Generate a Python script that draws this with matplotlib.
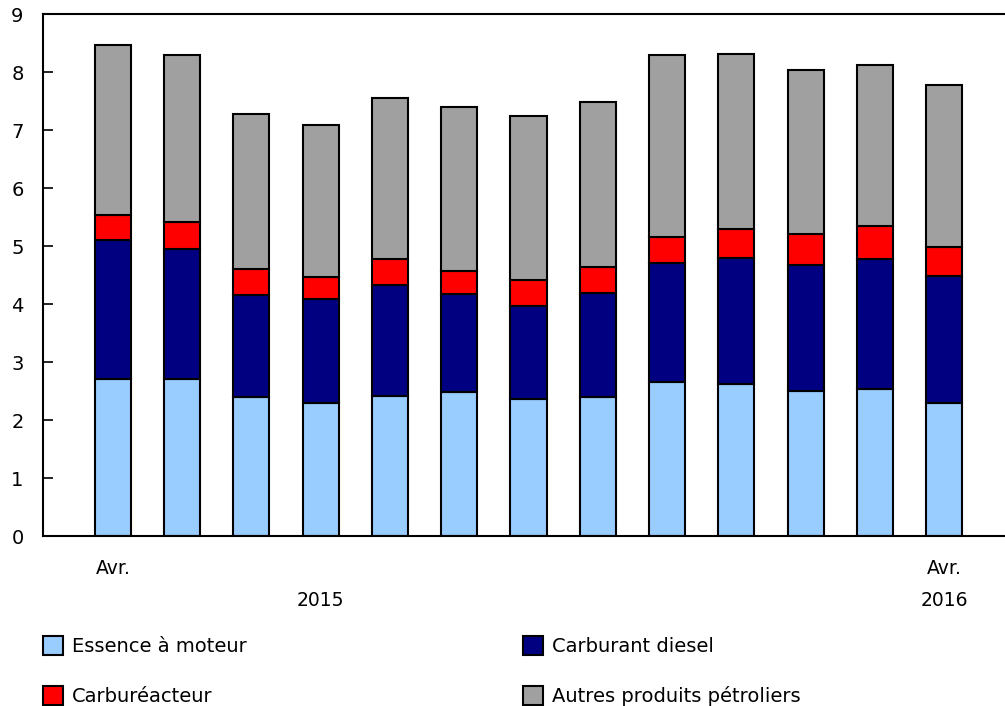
import numpy as np
import matplotlib
matplotlib.use("Agg")
import matplotlib.pyplot as plt
from matplotlib.patches import Patch
import matplotlib.transforms as mtransforms

# stacked totals (top of each segment)
top_essence = [2.70, 2.71, 2.40, 2.30, 2.41, 2.49, 2.37, 2.39, 2.65, 2.62, 2.50, 2.53, 2.30]
top_diesel = [5.11, 4.95, 4.16, 4.09, 4.33, 4.17, 3.96, 4.19, 4.70, 4.79, 4.68, 4.77, 4.48]
top_jet = [5.53, 5.42, 4.60, 4.47, 4.78, 4.57, 4.42, 4.64, 5.15, 5.30, 5.20, 5.35, 4.98]
top_total = [8.47, 8.30, 7.27, 7.09, 7.56, 7.40, 7.25, 7.49, 8.29, 8.31, 8.03, 8.12, 7.78]

essence = np.array(top_essence)
diesel = np.array(top_diesel) - np.array(top_essence)
jet = np.array(top_jet) - np.array(top_diesel)
autres = np.array(top_total) - np.array(top_jet)

labels = ["Essence à moteur", "Carburant diesel", "Carburéacteur", "Autres produits pétroliers"]
colors = ["#99CCFF", "#000080", "#FF0000", "#A0A0A0"]

plt.rcParams['font.family'] = ['DejaVu Sans']
plt.rcParams['font.size'] = 14

fig = plt.figure(figsize=(10.05, 7.06), dpi=100)
ax = fig.add_axes([43/1005, 170/706, 962/1005, 522/706])

x = np.arange(len(essence))
w = 0.52
bottom = np.zeros(len(x))
for vals, c in zip([essence, diesel, jet, autres], colors):
    ax.bar(x, vals, w, bottom=bottom, color=c, edgecolor="black", linewidth=1.5)
    bottom += vals

ax.set_xlim(-1.01, 12.88)
ax.set_ylim(0, 9)
ax.set_yticks(range(10))
ax.tick_params(axis='y', direction='in', length=7, width=1.2, pad=14)
ax.set_xticks([])
for s in ['left', 'top', 'bottom']:
    ax.spines[s].set_linewidth(1.5)
ax.spines['right'].set_visible(False)

trans = mtransforms.blended_transform_factory(ax.transData, fig.transFigure)
ax.text(0, 1 - 568/706, "Avr.", transform=trans, ha='center', va='center', fontsize=13.5)
ax.text(12, 1 - 568/706, "Avr.", transform=trans, ha='center', va='center', fontsize=13.5)
ax.text(3, 1 - 600/706, "2015", transform=trans, ha='center', va='center', fontsize=13.5)
ax.text(12, 1 - 600/706, "2016", transform=trans, ha='center', va='center', fontsize=13.5)

handles = [Patch(facecolor=c, edgecolor='black', linewidth=1.5) for c in colors]
order = [0, 2, 1, 3]
fig.legend([handles[i] for i in order], [labels[i] for i in order],
           loc='upper left', bbox_to_anchor=(43/1005, 1 - 636/706), ncol=2,
           frameon=False, fontsize=14, handlelength=1.05, handleheight=1.1,
           handletextpad=0.45, labelspacing=1.55, columnspacing=14.2,
           borderaxespad=0, borderpad=0)

fig.savefig("out.png", dpi=100)
